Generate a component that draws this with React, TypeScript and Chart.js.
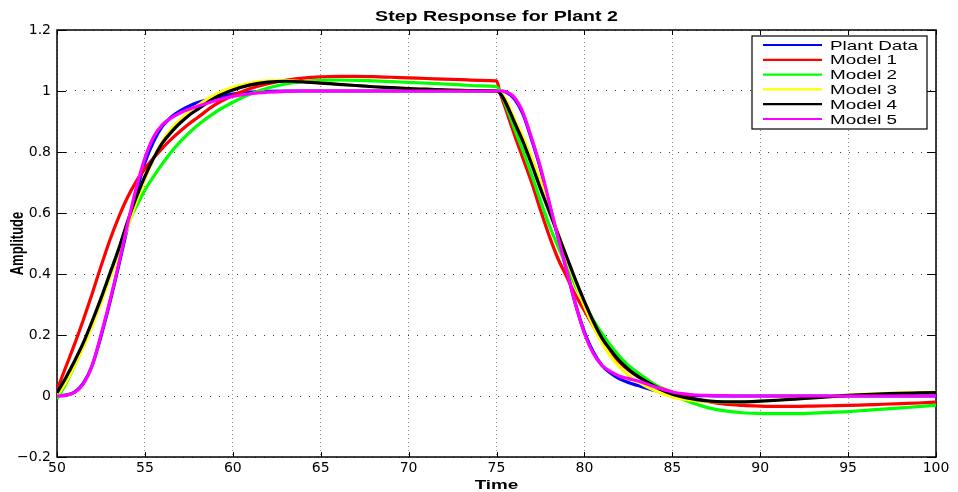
import React, { useEffect, useRef } from 'react';
import { Chart, registerables } from 'chart.js';

Chart.register(...registerables);

// ---------- Data ----------
const CHART_TITLE = 'Step Response for Plant 2';
const X_TITLE = 'Time';
const Y_TITLE = 'Amplitude';

const X_MIN = 50;
const X_MAX = 100;
const X_STEP = 5;
const Y_MIN = -0.2;
const Y_MAX = 1.2;
const Y_STEP = 0.2;

const SERIES_NAMES = ['Plant Data', 'Model 1', 'Model 2', 'Model 3', 'Model 4', 'Model 5'];

const TIME = [
  50, 50.5, 51, 51.5, 52, 52.5, 53, 53.5, 54, 54.5, 55, 55.5, 56, 56.5, 57, 57.5, 58,
  59, 60, 61, 62, 63, 64, 65, 66, 67, 68, 69, 70, 71, 72, 73, 74, 75,
  75.2, 75.5,
  76, 76.5, 77, 77.5, 78, 78.5, 79, 79.5, 80, 80.5, 81, 81.5, 82, 82.5, 83,
  84, 85, 86, 87, 88, 89, 90, 91, 92, 93, 94, 95, 96, 97, 98, 99, 100,
];

const PLANT_DATA = [
  0, 0.003, 0.013, 0.042, 0.1, 0.195, 0.305, 0.425, 0.55, 0.665, 0.765, 0.835, 0.885, 0.915, 0.935, 0.95, 0.962,
  0.978, 0.99, 0.996, 0.999, 1, 1, 1, 1, 1, 1, 1, 1, 1, 1, 1, 1, 1,
  1, 0.997,
  0.975, 0.925, 0.84, 0.745, 0.63, 0.52, 0.41, 0.3, 0.21, 0.145, 0.1, 0.075, 0.056, 0.044, 0.035,
  0.018, 0.006, 0.002, 0.001, 0, 0, 0, 0, 0, 0, 0, 0, 0, 0, 0, 0, 0,
];

const MODEL_1 = [
  0.02, 0.095, 0.17, 0.25, 0.335, 0.425, 0.51, 0.585, 0.65, 0.703, 0.745, 0.781, 0.813, 0.842, 0.868, 0.892, 0.913,
  0.955, 0.985, 1.008, 1.024, 1.035, 1.042, 1.046, 1.048, 1.048, 1.047, 1.045, 1.043, 1.041, 1.039, 1.037, 1.035, 1.033,
  0.995, 0.945,
  0.86, 0.78, 0.7, 0.61, 0.525, 0.45, 0.39, 0.33, 0.28, 0.23, 0.18, 0.14, 0.11, 0.085, 0.065,
  0.035, 0.012, -0.006, -0.018, -0.027, -0.031, -0.033, -0.034, -0.034, -0.033, -0.032, -0.031, -0.029, -0.027, -0.025, -0.023, -0.02,
];

const MODEL_2 = [
  -0.01, 0.04, 0.1, 0.165, 0.235, 0.315, 0.4, 0.48, 0.56, 0.62, 0.675, 0.72, 0.762, 0.8, 0.833, 0.862, 0.888,
  0.93, 0.963, 0.99, 1.01, 1.023, 1.031, 1.035, 1.036, 1.035, 1.033, 1.031, 1.028, 1.026, 1.023, 1.02, 1.017, 1.014,
  1.0, 0.958,
  0.88, 0.805, 0.725, 0.64, 0.56, 0.49, 0.425, 0.36, 0.305, 0.25, 0.205, 0.165, 0.13, 0.1, 0.078,
  0.038, 0.005, -0.02, -0.038, -0.049, -0.055, -0.057, -0.058, -0.058, -0.056, -0.054, -0.051, -0.047, -0.043, -0.039, -0.035, -0.03,
];

const MODEL_3 = [
  0.0, 0.045, 0.1, 0.16, 0.23, 0.305, 0.385, 0.465, 0.55, 0.635, 0.71, 0.78, 0.835, 0.875, 0.905, 0.93, 0.952,
  0.988, 1.012, 1.026, 1.033, 1.034, 1.031, 1.027, 1.022, 1.018, 1.014, 1.011, 1.008, 1.006, 1.004, 1.002, 1.001, 1.0,
  0.997, 0.975,
  0.91, 0.85, 0.78, 0.705, 0.62, 0.535, 0.45, 0.37, 0.295, 0.23, 0.175, 0.13, 0.095, 0.068, 0.048,
  0.018, -0.003, -0.013, -0.018, -0.02, -0.019, -0.017, -0.013, -0.009, -0.005, -0.001, 0.003, 0.006, 0.008, 0.01, 0.011, 0.012,
];

const MODEL_4 = [
  0.01, 0.06, 0.115, 0.175, 0.245, 0.32, 0.4, 0.48, 0.57, 0.65, 0.72, 0.78, 0.83, 0.865, 0.895, 0.92, 0.94,
  0.978, 1.003, 1.02, 1.029, 1.032, 1.03, 1.026, 1.022, 1.018, 1.014, 1.011, 1.008, 1.006, 1.004, 1.002, 1.001, 1.0,
  0.993, 0.965,
  0.9, 0.835, 0.76, 0.68, 0.605, 0.53, 0.455, 0.38, 0.31, 0.245, 0.19, 0.15, 0.115, 0.088, 0.066,
  0.032, 0.006, -0.008, -0.016, -0.019, -0.019, -0.017, -0.014, -0.01, -0.006, -0.002, 0.002, 0.005, 0.007, 0.009, 0.01, 0.011,
];

const MODEL_5 = [
  0, 0.002, 0.012, 0.04, 0.1, 0.2, 0.31, 0.43, 0.56, 0.68, 0.78, 0.85, 0.89, 0.912, 0.928, 0.94, 0.95,
  0.968, 0.982, 0.991, 0.996, 0.999, 1, 1, 1, 1, 1, 1, 1, 1, 1, 1, 1, 1,
  1, 0.998,
  0.98, 0.93, 0.845, 0.75, 0.635, 0.52, 0.41, 0.3, 0.205, 0.14, 0.1, 0.08, 0.065, 0.057, 0.05,
  0.03, 0.013, 0.005, 0.002, 0.001, 0, 0, 0, 0, 0, 0, 0, 0, 0, 0, 0, 0,
];

const SERIES_VALUES = [PLANT_DATA, MODEL_1, MODEL_2, MODEL_3, MODEL_4, MODEL_5];

// ---------- Styles ----------
const SERIES_COLORS = ['#0000ff', '#ff0000', '#00ff00', '#ffff00', '#000000', '#ff00ff'];
const DRAW_ORDER = [6, 5, 4, 3, 2, 1]; // magenta on top, blue at the bottom
const TEXT_STRETCH = 1.45;

function stretchedText(
  ctx: CanvasRenderingContext2D,
  text: string,
  x: number,
  y: number,
  sx: number,
  align: CanvasTextAlign,
  baseline: CanvasTextBaseline
) {
  ctx.save();
  ctx.translate(x, y);
  ctx.scale(sx, 1);
  ctx.textAlign = align;
  ctx.textBaseline = baseline;
  ctx.fillText(text, 0, 0);
  ctx.restore();
}

const framePlugin = {
  id: 'matlabFrame',
  beforeDatasetsDraw(chart: any) {
    const { ctx, chartArea, scales } = chart;
    const { left, right, top, bottom } = chartArea;
    ctx.save();
    ctx.strokeStyle = '#000';
    ctx.lineWidth = 1;
    ctx.beginPath();
    scales.x.ticks.forEach((t: any) => {
      const px = Math.round(scales.x.getPixelForValue(t.value)) + 0.5;
      ctx.moveTo(px, bottom);
      ctx.lineTo(px, bottom - 5);
      ctx.moveTo(px, top);
      ctx.lineTo(px, top + 5);
    });
    scales.y.ticks.forEach((t: any) => {
      const py = Math.round(scales.y.getPixelForValue(t.value)) + 0.5;
      ctx.moveTo(left, py);
      ctx.lineTo(left + 9, py);
      ctx.moveTo(right, py);
      ctx.lineTo(right - 9, py);
    });
    ctx.stroke();
    ctx.lineWidth = 1.5;
    ctx.strokeRect(left, top, right - left, bottom - top);
    ctx.restore();
  },
};

const textPlugin = {
  id: 'matlabText',
  afterDraw(chart: any) {
    const { ctx, chartArea } = chart;
    const { left, right, top, bottom } = chartArea;
    const cx = (left + right) / 2;
    ctx.save();
    ctx.fillStyle = '#000';

    // Title
    ctx.font = 'bold 14px "Liberation Sans", Arial, sans-serif';
    stretchedText(ctx, CHART_TITLE, cx, 21, 1.4, 'center', 'alphabetic');

    // X axis title
    ctx.font = 'bold 13px "Liberation Sans", Arial, sans-serif';
    stretchedText(ctx, X_TITLE, cx, 489, TEXT_STRETCH, 'center', 'alphabetic');

    // Y axis title (rotated, stretched across the screen-horizontal direction)
    ctx.save();
    ctx.translate(18, (top + bottom) / 2);
    ctx.rotate(-Math.PI / 2);
    ctx.scale(1, TEXT_STRETCH);
    ctx.textAlign = 'center';
    ctx.textBaseline = 'middle';
    ctx.fillText(Y_TITLE, 0, 0);
    ctx.restore();

    // Legend
    const boxL = 752;
    const boxT = 36;
    const boxW = 175;
    const boxH = 93;
    ctx.fillStyle = '#fff';
    ctx.fillRect(boxL, boxT, boxW, boxH);
    ctx.strokeStyle = '#000';
    ctx.lineWidth = 1.2;
    ctx.strokeRect(boxL, boxT, boxW, boxH);
    ctx.font = '13px "Liberation Sans", Arial, sans-serif';
    chart.data.datasets.forEach((ds: any, i: number) => {
      const yc = 45 + i * 14.8;
      ctx.strokeStyle = ds.borderColor;
      ctx.lineWidth = 2.2;
      ctx.beginPath();
      ctx.moveTo(763, yc);
      ctx.lineTo(822, yc);
      ctx.stroke();
      ctx.fillStyle = '#000';
      stretchedText(ctx, ds.label, 830, yc + 4.6, TEXT_STRETCH, 'left', 'alphabetic');
    });
    ctx.restore();
  },
};

export default function App() {
  const canvasRef = useRef<HTMLCanvasElement | null>(null);

  useEffect(() => {
    document.body.style.margin = '0';
    document.body.style.background = '#fff';
    const canvas = canvasRef.current;
    if (!canvas) return;

    const datasets = SERIES_NAMES.map((name, i) => ({
      label: name,
      data: TIME.map((t, j) => ({ x: t, y: SERIES_VALUES[i][j] })),
      borderColor: SERIES_COLORS[i],
      backgroundColor: SERIES_COLORS[i],
      borderWidth: 3.2,
      pointRadius: 0,
      fill: false,
      cubicInterpolationMode: 'monotone' as const,
      order: DRAW_ORDER[i],
    }));

    const chart = new Chart(canvas, {
      type: 'line',
      data: { datasets },
      options: {
        animation: false,
        responsive: false,
        devicePixelRatio: 1,
        layout: { padding: { top: 30, right: 22, left: 0, bottom: 0 } },
        plugins: {
          legend: { display: false },
          title: { display: false },
          tooltip: { enabled: false },
        },
        scales: {
          x: {
            type: 'linear',
            min: X_MIN,
            max: X_MAX,
            afterFit: (s: any) => {
              s.height = 35;
            },
            ticks: {
              stepSize: X_STEP,
              padding: 3,
              color: '#000',
              font: { family: '"DejaVu Sans", sans-serif', size: 14 },
              maxRotation: 0,
              autoSkip: false,
            },
            grid: {
              color: '#8a8a8a',
              lineWidth: 1,
              drawTicks: false,
            },
            border: { display: false, dash: [1, 3] },
          },
          y: {
            type: 'linear',
            min: Y_MIN,
            max: Y_MAX,
            afterFit: (s: any) => {
              s.width = 57;
            },
            ticks: {
              stepSize: Y_STEP,
              padding: 6,
              color: '#000',
              font: { family: '"DejaVu Sans", sans-serif', size: 14 },
              autoSkip: false,
              callback: (v: any) => {
                const n = Math.round(Number(v) * 10) / 10;
                const s = n === 0 ? '0' : String(n);
                return s.replace('-', '\u2212');
              },
            },
            grid: {
              color: '#3a3a3a',
              lineWidth: 1,
              drawTicks: false,
            },
            border: { display: false, dash: [1, 8] },
          },
        },
      },
      plugins: [framePlugin, textPlugin],
    });

    return () => {
      chart.destroy();
    };
  }, []);

  return (
    <div style={{ width: 958, height: 492, background: '#fff' }}>
      <canvas ref={canvasRef} width={958} height={492} style={{ display: 'block' }} />
    </div>
  );
}
